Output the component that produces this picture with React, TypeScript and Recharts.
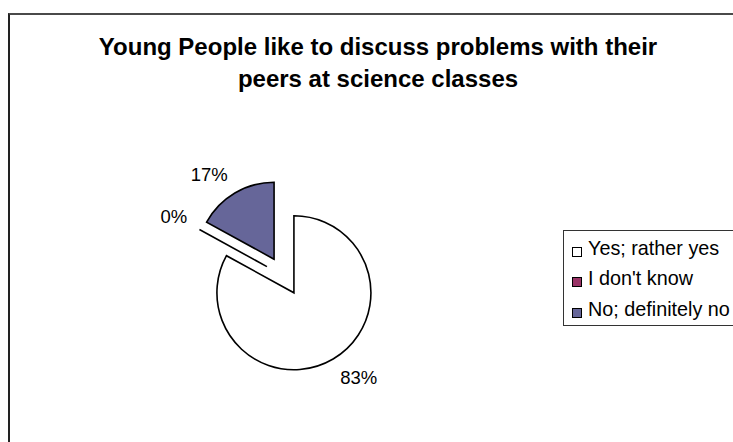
import React from 'react';
import { PieChart, Pie, Cell, Legend } from 'recharts';

// survey answers and their shares (%)
const answers = ['Yes; rather yes', "I don't know", 'No; definitely no'];
const shares = [83, 0, 17];
const sliceColors = ['#ffffff', '#993366', '#666699'];
const titleLines = ['Young People like to discuss problems with their', 'peers at science classes'];

const FONT = '"Liberation Sans", Arial, Helvetica, sans-serif';
const RAD = Math.PI / 180;
const EXPLODE = 19.5;   // every slice pulled out along its mid angle
const LABEL_GAP = 14;   // label corner sits this far past the rim
const EDGE = '#000';

const pieData = answers.map((name, i) => ({ name, value: shares[i], fill: sliceColors[i] }));

function explodedOrigin(cx: number, cy: number, mid: number) {
  return [cx + EXPLODE * Math.cos(-mid * RAD), cy + EXPLODE * Math.sin(-mid * RAD)];
}

function ExplodedSlice(props: any) {
  const { cx, cy, outerRadius: r, startAngle, endAngle, fill } = props;
  const mid = (startAngle + endAngle) / 2;
  const [ox, oy] = explodedOrigin(cx, cy, mid);
  const pt = (a: number) => [ox + r * Math.cos(-a * RAD), oy + r * Math.sin(-a * RAD)];
  const [sx, sy] = pt(startAngle);

  // a zero share still shows up as a single spoke
  if (Math.abs(endAngle - startAngle) < 1e-6) {
    return <path d={`M${ox},${oy}L${sx},${sy}`} stroke={EDGE} strokeWidth={1.6} fill="none" />;
  }
  const [ex, ey] = pt(endAngle);
  const large = Math.abs(endAngle - startAngle) > 180 ? 1 : 0;
  const sweep = startAngle > endAngle ? 1 : 0;
  return (
    <path
      d={`M${ox},${oy}L${sx},${sy}A${r},${r} 0 ${large} ${sweep} ${ex},${ey}Z`}
      fill={fill}
      stroke={EDGE}
      strokeWidth={1.6}
    />
  );
}

function SliceLabel(props: any) {
  const { cx, cy, startAngle, endAngle, outerRadius, value } = props;
  const mid = props.midAngle ?? (startAngle + endAngle) / 2;
  const [ox, oy] = explodedOrigin(cx, cy, mid);
  const cos = Math.cos(-mid * RAD);
  const sin = Math.sin(-mid * RAD);
  const ax = ox + (outerRadius + LABEL_GAP) * cos;
  const ay = oy + (outerRadius + LABEL_GAP) * sin;
  return (
    <text
      x={ax}
      y={sin > 0 ? ay + 13.3 : ay}
      textAnchor={cos >= 0 ? 'start' : 'end'}
      fontSize={18.5}
      fontFamily={FONT}
      fill="#000"
    >
      {value}%
    </text>
  );
}

// legend keeps the data order rather than the library's sorted payload
function LegendBox() {
  return (
    <div
      style={{
        width: 190,
        height: 96,
        boxSizing: 'border-box',
        border: '1px solid #333',
        background: '#fff',
        paddingTop: 1.5,
        fontFamily: FONT,
        fontSize: 19.8,
        color: '#000',
      }}
    >
      {answers.map((name, i) => (
        <div key={name} style={{ position: 'relative', height: 30.7, lineHeight: '30.7px', whiteSpace: 'nowrap' }}>
          <span
            style={{
              position: 'absolute',
              left: 8,
              top: 14,
              width: 10,
              height: 10,
              boxSizing: 'border-box',
              border: '1px solid #000',
              background: sliceColors[i],
            }}
          />
          <span style={{ position: 'absolute', left: 24, top: 0 }}>{name}</span>
        </div>
      ))}
    </div>
  );
}

export default function App() {
  return (
    <div style={{ position: 'absolute', left: 0, top: 0, width: 733, height: 442, overflow: 'hidden', background: '#fff' }}>
      {/* chart frame, its right and bottom edges run off the page */}
      <div
        style={{
          position: 'absolute',
          left: 8,
          top: 13,
          width: 760,
          height: 460,
          borderLeft: '2px solid #222',
          borderTop: '2px solid #4a4a4a',
        }}
      />
      <div
        style={{
          position: 'absolute',
          left: 8,
          top: 30.7,
          width: 740,
          textAlign: 'center',
          fontFamily: FONT,
          fontWeight: 'bold',
          fontSize: 24,
          lineHeight: '32px',
          color: '#000',
        }}
      >
        {titleLines.map((line) => (
          <div key={line}>{line}</div>
        ))}
      </div>
      <div style={{ position: 'absolute', left: 0, top: 0 }}>
        <PieChart width={733} height={442} margin={{ top: 0, right: 0, bottom: 0, left: 0 }}>
          <Pie
            data={pieData}
            dataKey="value"
            nameKey="name"
            cx={284}
            cy={276}
            outerRadius={77}
            startAngle={90}
            endAngle={-270}
            stroke={EDGE}
            isAnimationActive={false}
            labelLine={false}
            label={SliceLabel}
            shape={ExplodedSlice}
            activeShape={ExplodedSlice}
            inactiveShape={ExplodedSlice}
          >
            {pieData.map((d) => (
              <Cell key={d.name} fill={d.fill} />
            ))}
          </Pie>
          <Legend
            layout="vertical"
            align="right"
            verticalAlign="top"
            content={LegendBox}
            wrapperStyle={{ left: 563, top: 230, width: 190 }}
          />
        </PieChart>
      </div>
    </div>
  );
}
